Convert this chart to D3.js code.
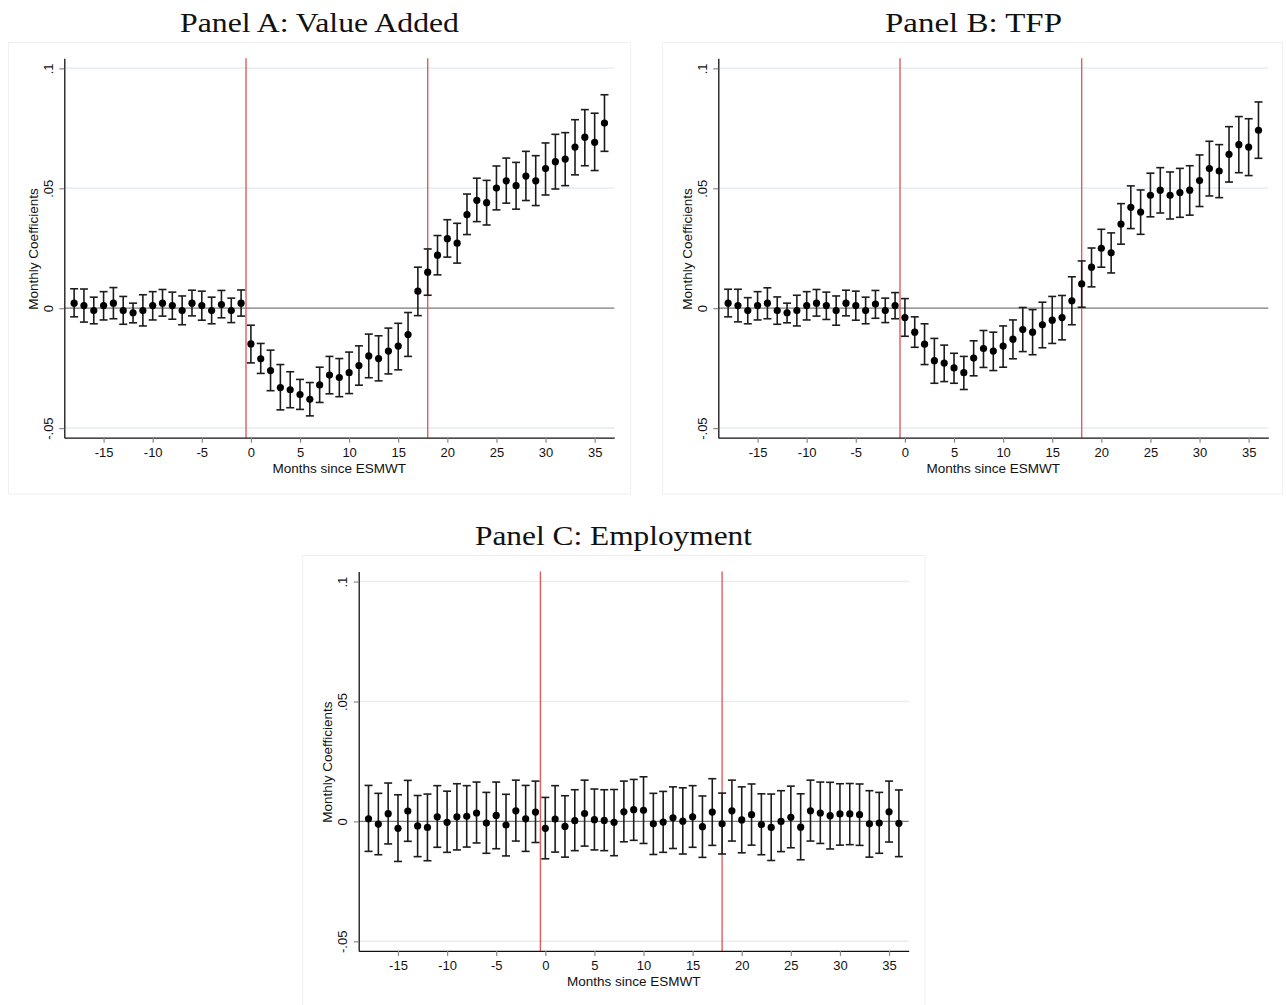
<!DOCTYPE html>
<html>
<head>
<meta charset="utf-8">
<script src="https://cdn.jsdelivr.net/npm/d3@7"></script>
<style>
  html, body { margin: 0; padding: 0; background: #fff; }
  svg { display: block; }
</style>
</head>
<body>
<svg id="chart" width="1287" height="1005"></svg>
<script>
// Event-study coefficients with 95% confidence intervals, by month relative to ESMWT.
const months = [-18,-17,-16,-15,-14,-13,-12,-11,-10,-9,-8,-7,-6,-5,-4,-3,-2,-1,
  0,1,2,3,4,5,6,7,8,9,10,11,12,13,14,15,16,17,18,19,20,21,22,23,24,25,26,27,28,29,30,31,32,33,34,35,36];

// Panel A: Value Added
const coefA = [.0021,.0011,-.001,.0011,.0021,-.001,-.0019,-.001,.0011,.0021,.0011,-.001,.0021,.0011,-.001,.0015,-.001,.0021,
  -.0149,-.0211,-.026,-.0331,-.034,-.036,-.038,-.032,-.0279,-.0289,-.0269,-.0239,-.0199,-.021,-.0179,-.0158,-.011,.0071,.015,
  .0221,.029,.0271,.039,.045,.044,.0501,.0531,.0511,.0551,.0531,.0582,.0611,.0622,.0672,.0713,.0692,.0772];
const hiA = [.0081,.008,.0046,.0069,.0086,.0049,.0021,.0056,.0069,.0078,.0067,.0051,.0075,.0071,.0046,.0074,.0042,.0076,
  -.0071,-.0147,-.0175,-.0235,-.0265,-.0297,-.031,-.0246,-.0201,-.021,-.0183,-.0157,-.0108,-.0115,-.0083,-.0063,-.0018,.0171,.0247,
  .0303,.0369,.0354,.0476,.0542,.0533,.0593,.0626,.0608,.0654,.0636,.0689,.0725,.0732,.0786,.0828,.0813,.089];
const loA = [-.0036,-.0058,-.0065,-.0049,-.0044,-.0067,-.0061,-.0074,-.0049,-.0033,-.0046,-.0069,-.0032,-.005,-.0065,-.004,-.006,-.0033,
  -.0228,-.0272,-.0344,-.0424,-.0415,-.0422,-.0449,-.0393,-.0357,-.0369,-.0356,-.0321,-.029,-.0303,-.0274,-.0257,-.0201,-.0031,.0054,
  .0139,.0213,.0188,.0307,.0361,.0347,.041,.0438,.0413,.0449,.0428,.0472,.0497,.0511,.0556,.0594,.0574,.0654];

// Panel B: TFP
const coefB = [.0021,.0011,-.001,.0011,.0021,-.001,-.0019,-.001,.0011,.0021,.0011,-.001,.0021,.0011,-.001,.0017,-.001,.0011,
  -.0039,-.01,-.015,-.0219,-.0229,-.0249,-.0269,-.0208,-.0168,-.0179,-.0158,-.0129,-.0089,-.01,-.0069,-.005,-.0039,.0031,.0101,
  .0171,.025,.0231,.0351,.0421,.0401,.0471,.0492,.0471,.0482,.0492,.0532,.0582,.0572,.0642,.0682,.0672,.0742];
const hiB = [.0079,.0079,.0044,.0069,.0085,.0047,.0021,.0054,.0069,.0078,.0067,.0051,.0075,.0071,.0046,.0074,.0042,.0065,
  .004,-.0036,-.0065,-.0126,-.0154,-.0188,-.0201,-.0136,-.0093,-.01,-.0074,-.0049,.0003,-.0006,.0025,.0049,.0053,.0131,.0197,
  .0251,.0329,.0314,.0436,.051,.0493,.0563,.0586,.0568,.0583,.0594,.0639,.0696,.0682,.0757,.0799,.079,.086];
const loB = [-.0036,-.0057,-.0065,-.0049,-.0044,-.0067,-.0061,-.0074,-.0049,-.0033,-.0047,-.0071,-.0032,-.005,-.0065,-.0042,-.006,-.0044,
  -.0117,-.0163,-.0235,-.0313,-.0306,-.0313,-.0339,-.0282,-.0247,-.026,-.0246,-.0211,-.0181,-.0194,-.0165,-.0147,-.0132,-.0069,.0004,
  .0089,.0171,.0147,.0267,.0332,.0308,.0381,.0397,.0372,.0379,.0388,.0424,.0468,.0461,.0526,.0565,.0553,.0625];

// Panel C: Employment
const coefC = [.0011,-.0011,.0032,-.0029,.0043,-.0019,-.0025,.0019,-.0004,.0019,.0021,.0035,-.0007,.0025,-.0015,.0044,.0011,.0039,
  -.0029,.001,-.0021,.0003,.0033,.0007,.0004,-.0004,.004,.0049,.0046,-.001,-.0003,.0015,.0001,.0019,-.0022,.0039,-.001,
  .0044,.0006,.0028,-.0013,-.0025,0,.0017,-.0024,.0044,.0035,.0024,.0031,.0031,.0028,-.001,-.0007,.004,-.0008];
const hiC = [.015,.0117,.016,.0111,.0171,.0108,.0114,.0149,.0126,.0157,.0149,.0164,.0121,.0164,.0113,.0172,.015,.0168,
  .01,.0149,.0107,.0132,.0172,.0135,.0132,.0133,.0168,.0175,.0186,.0117,.0125,.0144,.014,.0149,.0106,.0178,.0118,
  .0172,.0144,.0156,.0115,.0114,.0128,.0147,.0115,.0172,.0164,.0163,.0157,.0158,.0156,.0128,.0121,.0168,.0131];
const loC = [-.0125,-.0139,-.0094,-.0167,-.0083,-.0147,-.0164,-.0108,-.0129,-.0119,-.0107,-.009,-.0133,-.0114,-.0144,-.0082,-.0125,-.0088,
  -.0156,-.0128,-.0149,-.0122,-.0103,-.0119,-.0122,-.0143,-.0085,-.0079,-.0092,-.0138,-.0129,-.0113,-.0136,-.0108,-.015,-.01,-.0136,
  -.0082,-.0131,-.0099,-.0139,-.0163,-.0126,-.011,-.016,-.0082,-.0092,-.0115,-.0099,-.0097,-.01,-.0149,-.0133,-.0086,-.0147];

// Axis ticks and labels
const xTicks = [-15,-10,-5,0,5,10,15,20,25,30,35];
const xTickLabels = ["-15","-10","-5","0","5","10","15","20","25","30","35"];
const yTicks = [-0.05, 0, 0.05, 0.1];
const yTickLabels = ["-.05", "0", ".05", ".1"];
const eventLines = [-0.5, 18];
const xTitle = "Months since ESMWT";
const yTitle = "Monthly Coefficients";

const panels = [
  { title: "Panel A: Value Added", coef: coefA, lo: loA, hi: hiA,
    titleX: 319.5, titleY: 31.5, titleLen: 279,
    box: { x: 8.5, y: 42.5, w: 622, h: 451.5 },
    plot: { x: 64.3, y: 58.3, w: 550, h: 379.4 } },
  { title: "Panel B: TFP", coef: coefB, lo: loB, hi: hiB,
    titleX: 973.5, titleY: 31.5, titleLen: 177,
    box: { x: 662.5, y: 42.5, w: 620, h: 451.5 },
    plot: { x: 718.3, y: 58.3, w: 550, h: 379.4 } },
  { title: "Panel C: Employment", coef: coefC, lo: loC, hi: hiC,
    titleX: 613.5, titleY: 544.5, titleLen: 277,
    box: { x: 302.5, y: 555.5, w: 622.5, h: 452 },
    plot: { x: 358.7, y: 571.5, w: 550, h: 379.4 } }
];

const svg = d3.select("#chart");
const sans = "'Liberation Sans', Arial, Helvetica, sans-serif";

panels.forEach(p => {
  // graph region frame
  svg.append("rect")
    .attr("x", p.box.x).attr("y", p.box.y)
    .attr("width", p.box.w).attr("height", p.box.h)
    .attr("fill", "#fff").attr("stroke", "#eef0f1").attr("stroke-width", 1);

  // panel title
  svg.append("text")
    .attr("x", p.titleX).attr("y", p.titleY)
    .attr("text-anchor", "middle")
    .attr("font-family", "'Liberation Serif', 'Times New Roman', serif")
    .attr("font-size", 28)
    .attr("fill", "#111")
    .attr("textLength", p.titleLen)
    .attr("lengthAdjust", "spacingAndGlyphs")
    .text(p.title);

  const x = d3.scaleLinear().domain([-19, 37]).range([p.plot.x, p.plot.x + p.plot.w]);
  const y = d3.scaleLinear().domain([-0.054, 0.1042]).range([p.plot.y + p.plot.h, p.plot.y]);
  const g = svg.append("g");

  // horizontal grid lines
  g.selectAll("line.grid").data(yTicks.filter(v => v !== 0)).join("line")
    .attr("class", "grid")
    .attr("x1", p.plot.x).attr("x2", p.plot.x + p.plot.w)
    .attr("y1", d => y(d)).attr("y2", d => y(d))
    .attr("stroke", "#e6eef1").attr("stroke-width", 1.5);

  // zero reference line
  g.append("line")
    .attr("x1", p.plot.x).attr("x2", p.plot.x + p.plot.w)
    .attr("y1", y(0)).attr("y2", y(0))
    .attr("stroke", "#7a7a7a").attr("stroke-width", 1.2);

  // event window markers
  g.selectAll("line.event").data(eventLines).join("line")
    .attr("class", "event")
    .attr("x1", d => x(d)).attr("x2", d => x(d))
    .attr("y1", p.plot.y).attr("y2", p.plot.y + p.plot.h)
    .attr("stroke", "#e35c5c").attr("stroke-width", 1.4);

  const rows = months.map((m, i) => ({ m, c: p.coef[i], lo: p.lo[i], hi: p.hi[i] }));
  const cap = 4;

  // confidence intervals with caps
  const bars = g.append("g").attr("stroke", "#1c1c1c").attr("stroke-width", 1.6).attr("fill", "none");
  bars.selectAll("line.v").data(rows).join("line").attr("class", "v")
    .attr("x1", d => x(d.m)).attr("x2", d => x(d.m))
    .attr("y1", d => y(d.lo)).attr("y2", d => y(d.hi));
  bars.selectAll("line.t").data(rows).join("line").attr("class", "t")
    .attr("x1", d => x(d.m) - cap).attr("x2", d => x(d.m) + cap)
    .attr("y1", d => y(d.hi)).attr("y2", d => y(d.hi));
  bars.selectAll("line.b").data(rows).join("line").attr("class", "b")
    .attr("x1", d => x(d.m) - cap).attr("x2", d => x(d.m) + cap)
    .attr("y1", d => y(d.lo)).attr("y2", d => y(d.lo));

  // point estimates
  g.selectAll("circle").data(rows).join("circle")
    .attr("cx", d => x(d.m)).attr("cy", d => y(d.c))
    .attr("r", 3.6).attr("fill", "#000");

  // x axis
  const xAxis = g.append("g")
    .attr("transform", `translate(0,${p.plot.y + p.plot.h})`)
    .call(d3.axisBottom(x).tickValues(xTicks).tickSize(5).tickSizeOuter(0).tickPadding(5)
      .tickFormat((d, i) => xTickLabels[i]));
  xAxis.select(".domain").attr("stroke", "#111").attr("stroke-width", 1.3);
  xAxis.selectAll(".tick line").attr("stroke", "#888").attr("stroke-width", 1.2);
  xAxis.selectAll(".tick text").attr("font-family", sans).attr("font-size", 13).attr("fill", "#111");

  // y axis
  const yAxis = g.append("g")
    .attr("transform", `translate(${p.plot.x},0)`)
    .call(d3.axisLeft(y).tickValues(yTicks).tickSize(5).tickSizeOuter(0)
      .tickFormat((d, i) => yTickLabels[i]));
  yAxis.select(".domain").attr("stroke", "#111").attr("stroke-width", 1.3);
  yAxis.selectAll(".tick line").attr("stroke", "#888").attr("stroke-width", 1.2);
  yAxis.selectAll(".tick text")
    .attr("font-family", sans).attr("font-size", 13).attr("fill", "#111")
    .attr("x", null).attr("dy", null)
    .attr("transform", "translate(-16,0) rotate(-90)")
    .attr("text-anchor", "middle")
    .attr("dominant-baseline", "central");

  // axis titles
  g.append("text")
    .attr("x", p.plot.x + p.plot.w / 2).attr("y", p.plot.y + p.plot.h + 35)
    .attr("text-anchor", "middle")
    .attr("font-family", sans).attr("font-size", 13.5).attr("fill", "#111")
    .text(xTitle);
  g.append("text")
    .attr("transform", `translate(${p.plot.x - 31},${p.plot.y + p.plot.h / 2 + 1}) rotate(-90)`)
    .attr("text-anchor", "middle")
    .attr("dominant-baseline", "central")
    .attr("font-family", sans).attr("font-size", 13.5).attr("fill", "#111")
    .text(yTitle);
});
</script>
</body>
</html>
